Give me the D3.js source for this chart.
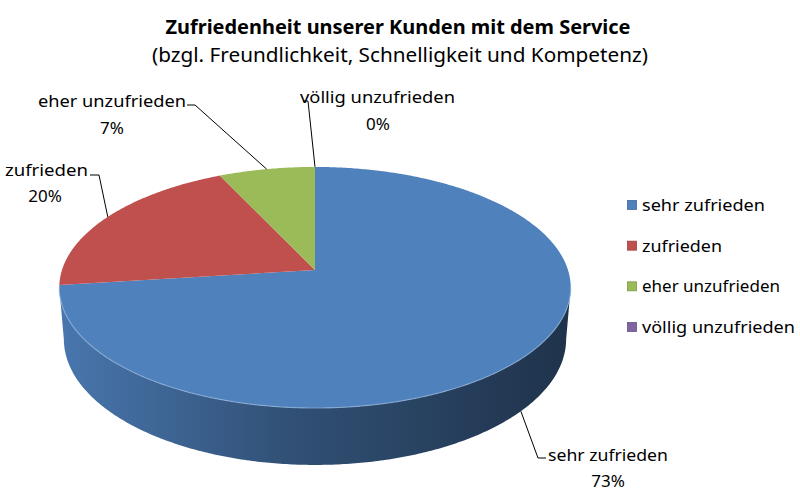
<!DOCTYPE html>
<html lang="de">
<head>
<meta charset="utf-8" />
<title>Zufriedenheit unserer Kunden</title>
<style>
  body { margin: 0; padding: 0; background: #fff; }
  svg { display: block; font-family: "Noto Sans", "Open Sans", sans-serif; }
  .lbl { font-size: 17px; fill: #000; }
  .leader { fill: none; stroke: #000; stroke-width: 1px; }
</style>
</head>
<body>
<div id="chart"></div>
<script src="https://cdnjs.cloudflare.com/ajax/libs/d3/7.8.5/d3.min.js"></script>
<script>
// chart data
const categories = ['sehr zufrieden', 'zufrieden', 'eher unzufrieden', 'völlig unzufrieden'];
const values = [73, 20, 7, 0];
const percentLabels = ['73%', '20%', '7%', '0%'];
const colors = ['#4f81bd', '#c0504d', '#9bbb59', '#8064a2'];
const title = 'Zufriedenheit unserer Kunden mit dem Service';
const subtitle = '(bzgl. Freundlichkeit, Schnelligkeit und Kompetenz)';

const width = 800, height = 497;

const svg = d3.select('#chart').append('svg')
    .attr('width', width)
    .attr('height', height);

// 3d perspective of the disc
const cx = 315, cy = 270, R = 253;
const tilt = 27.8 * Math.PI / 180;
const sinA = Math.sin(tilt), cosA = Math.cos(tilt);
const persp = 0.164, depth = 0.233;

function project(theta, yw) {
  const X = Math.sin(theta), Z = Math.cos(theta);
  const yc = Z * sinA + yw * cosA;
  const zc = Z * cosA - yw * sinA;
  const f = 1 / (1 + persp * zc);
  return [cx + R * X * f, cy - R * yc * f];
}

function rim(a0, a1, yw) {
  const n = Math.max(2, Math.ceil(Math.abs(a1 - a0) / 0.01));
  return d3.range(n + 1).map(i => project(a0 + (a1 - a0) * i / n, yw));
}

const arcs = d3.pie().sort(null).value(d => d)(values);

// front half of the wall is visible between these angles
const thR = Math.acos(-persp * cosA);
const thL = 2 * Math.PI - thR;

const defs = svg.append('defs');
arcs.forEach((a, i) => {
  const c = d3.rgb(colors[i]);
  const g = defs.append('linearGradient')
      .attr('id', 'side' + i)
      .attr('gradientUnits', 'userSpaceOnUse')
      .attr('x1', cx - R).attr('x2', cx + R)
      .attr('y1', 0).attr('y2', 0);
  g.append('stop').attr('offset', 0).attr('stop-color', c.darker(0.25));
  g.append('stop').attr('offset', 0.45).attr('stop-color', c.darker(1.35));
  g.append('stop').attr('offset', 1).attr('stop-color', c.darker(2.6));
});

const line = d3.line();

// side walls
const sides = svg.append('g');
arcs.forEach((a, i) => {
  const t0 = Math.max(a.startAngle, thR), t1 = Math.min(a.endAngle, thL);
  if (t1 <= t0) return;
  const pts = rim(t0, t1, 0).concat(rim(t1, t0, -depth));
  sides.append('path')
      .attr('d', line(pts) + 'Z')
      .attr('fill', `url(#side${i})`);
});

// top faces
const tops = svg.append('g');
arcs.forEach((a, i) => {
  if (a.endAngle - a.startAngle <= 0) return;
  const pts = [[cx, cy]].concat(rim(a.startAngle, a.endAngle, 0));
  tops.append('path')
      .attr('d', line(pts) + 'Z')
      .attr('fill', colors[i]);
});

// light rim highlight on the front edge
svg.append('path')
    .attr('d', line(rim(thR, thL, 0)))
    .attr('fill', 'none')
    .attr('stroke', '#8fb0d8')
    .attr('stroke-width', 1.2)
    .attr('stroke-opacity', 0.7);

// title
svg.append('text')
    .attr('x', 398).attr('y', 34)
    .attr('text-anchor', 'middle')
    .attr('font-size', 19).attr('font-weight', 'bold')
    .attr('textLength', 465).attr('lengthAdjust', 'spacingAndGlyphs')
    .text(title);
svg.append('text')
    .attr('x', 400).attr('y', 62)
    .attr('text-anchor', 'middle')
    .attr('font-size', 19)
    .attr('textLength', 496).attr('lengthAdjust', 'spacingAndGlyphs')
    .text(subtitle);

// data labels with leader lines (layout positions)
const labelLayout = [
  { x: 548, y: 461, len: 120, anchor: 'start', px: 608, py: 487, yw: -depth,
    path: [[546, 458], [538, 458]] },
  { x: 5, y: 176, len: 83, anchor: 'start', px: 45, py: 202, yw: 0,
    path: [[90, 175], [99, 175]] },
  { x: 38, y: 107, len: 148, anchor: 'start', px: 112, py: 134, yw: 0,
    path: [[187, 105], [195, 105]] },
  { x: 300, y: 103, len: 155, anchor: 'start', px: 378, py: 130, yw: 0,
    path: [[303, 101], [308, 101]] }
];

const labels = svg.append('g');
arcs.forEach((a, i) => {
  const L = labelLayout[i];
  const mid = (a.startAngle + a.endAngle) / 2;
  const end = project(mid, L.yw);
  labels.append('path')
      .attr('class', 'leader')
      .attr('d', line(L.path.concat([end])));
  labels.append('text')
      .attr('class', 'lbl')
      .attr('x', L.x).attr('y', L.y)
      .attr('textLength', L.len).attr('lengthAdjust', 'spacingAndGlyphs')
      .text(categories[i]);
  labels.append('text')
      .attr('class', 'lbl')
      .attr('x', L.px).attr('y', L.py)
      .attr('text-anchor', 'middle')
      .text(percentLabels[i]);
});

// legend
const legendY = d3.scalePoint().domain(categories).range([205, 327]);
const legendLen = [123, 80, 138, 153];
const legend = svg.append('g');
categories.forEach((c, i) => {
  const y = legendY(c);
  legend.append('rect')
      .attr('x', 627.5).attr('y', y - 4.5)
      .attr('width', 9).attr('height', 9)
      .attr('fill', colors[i])
      .attr('stroke', d3.rgb(colors[i]).darker(0.6))
      .attr('stroke-width', 0.8);
  legend.append('text')
      .attr('class', 'lbl')
      .attr('x', 642).attr('y', y + 6)
      .attr('textLength', legendLen[i]).attr('lengthAdjust', 'spacingAndGlyphs')
      .text(c);
});
</script>
</body>
</html>
